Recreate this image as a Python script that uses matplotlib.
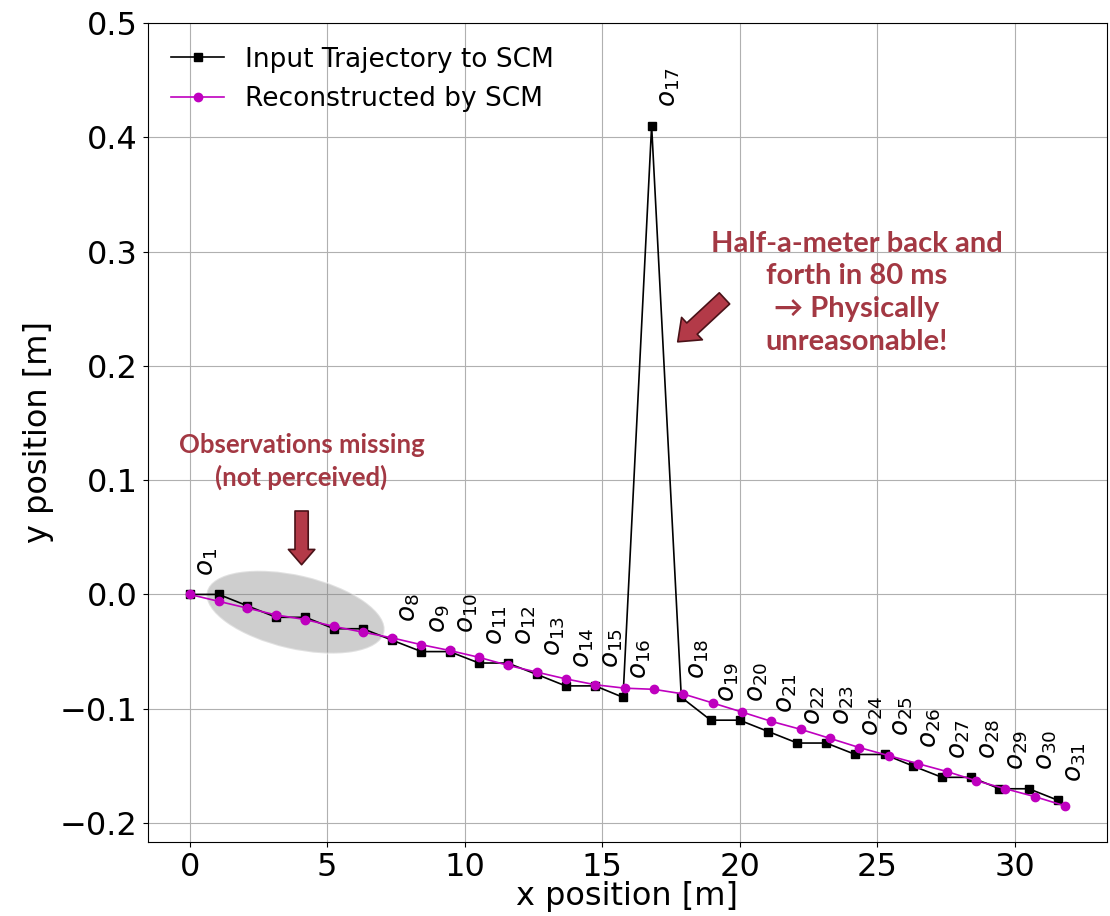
import numpy as np
import matplotlib
matplotlib.use("Agg")
from matplotlib import pyplot as plt
from matplotlib.patches import Ellipse
import matplotlib.transforms as mtransforms

# input trajectory (black squares)
input_x = [0.0, 1.06, 2.10, 3.15, 4.21, 5.25, 6.30, 7.36, 8.43, 9.45, 10.52,
           11.56, 12.63, 13.67, 14.75, 15.76, 16.80, 17.88, 18.95, 20.00, 21.05,
           22.10, 23.15, 24.21, 25.27, 26.30, 27.36, 28.43, 29.45, 30.52, 31.57]
input_y = [0.0, 0.0, -0.01, -0.02, -0.02, -0.03, -0.03, -0.04, -0.05, -0.05, -0.06,
           -0.06, -0.07, -0.08, -0.08, -0.09, 0.41, -0.09, -0.11, -0.11, -0.12,
           -0.13, -0.13, -0.14, -0.14, -0.15, -0.16, -0.16, -0.17, -0.17, -0.18]

# reconstructed trajectory (magenta dots)
rec_x = [0.0, 1.05, 2.10, 3.15, 4.21, 5.25, 6.30, 7.36, 8.43, 9.45, 10.52,
         11.57, 12.63, 13.70, 14.75, 15.82, 16.88, 17.94, 19.03, 20.10, 21.15,
         22.22, 23.30, 24.36, 25.42, 26.48, 27.55, 28.61, 29.67, 30.75, 31.84]
rec_y = [0.0, -0.006, -0.012, -0.018, -0.022, -0.028, -0.033, -0.038, -0.044, -0.049, -0.055,
         -0.062, -0.068, -0.074, -0.079, -0.082, -0.083, -0.087, -0.095, -0.103, -0.111,
         -0.118, -0.126, -0.134, -0.141, -0.148, -0.155, -0.163, -0.170, -0.177, -0.185]

# observation numbers shown next to the input points (o2..o7 not perceived)
obs_idx = [0] + list(range(7, 31))

RED = "#a33843"
ARROW_FC = "#b33a48"
ARROW_EC = "#4a1218"

fig = plt.figure(figsize=(11.1, 9.16), dpi=100)
ax = fig.add_axes([0.133, 0.081, 0.864, 0.894])

ax.grid(True, color="#b0b0b0", linewidth=0.8)
ax.set_axisbelow(True)

# grey ellipse around the missing observations (drawn in inches so it is not squashed)
etrans = fig.dpi_scale_trans + mtransforms.ScaledTranslation(3.85, -0.0155, ax.transData)
ell = Ellipse((0, 0), 1.82, 0.74, angle=-13, transform=etrans,
              facecolor="gray", alpha=0.38, edgecolor="white", linewidth=1.5, zorder=1.5)
ax.add_patch(ell)

ax.plot(input_x, input_y, color="black", marker="s", markersize=5.5, linewidth=1.2,
        label="Input Trajectory to SCM", zorder=3)
ax.plot(rec_x, rec_y, color="m", marker="o", markersize=6, linewidth=1.2,
        label="Reconstructed by SCM", zorder=4)

for i in obs_idx:
    ax.text(input_x[i] + 0.15, input_y[i] + 0.016, "$o_{%d}$" % (i + 1),
            rotation=90, ha="left", va="bottom", fontsize=19)

ax.set_xlim(-1.53, 33.35)
ax.set_ylim(-0.2164, 0.5)
ax.set_xticks(np.arange(0, 31, 5))
ax.set_yticks(np.arange(-0.2, 0.51, 0.1))
ax.tick_params(labelsize=23)
ax.set_xlabel("x position [m]", fontsize=23, labelpad=-1)
ax.set_ylabel("y position [m]", fontsize=23)

ax.legend(loc="upper left", frameon=False, fontsize=19)

# annotations
ax.text(4.07, 0.1165, "Observations missing\n(not perceived)", ha="center", va="center",
        fontsize=18.5, color=RED, fontweight="bold", linespacing=1.35,
        family=["Lato", "DejaVu Sans"])
ax.annotate("", xy=(4.07, 0.026), xytext=(4.07, 0.073),
            arrowprops=dict(arrowstyle="simple,head_length=11,head_width=19,tail_width=9.5",
                            mutation_scale=1, fc=ARROW_FC, ec=ARROW_EC, lw=1.2,
                            shrinkA=0, shrinkB=0))

ax.text(24.25, 0.264, "Half-a-meter back and\nforth in 80 ms\n\u2192 Physically\nunreasonable!",
        ha="center", va="center", fontsize=21, color=RED, fontweight="bold",
        linespacing=1.32, family=["Lato", "DejaVu Sans"])
ax.annotate("", xy=(17.75, 0.221), xytext=(19.45, 0.259),
            arrowprops=dict(arrowstyle="simple,head_length=14,head_width=22,tail_width=11",
                            mutation_scale=1, fc=ARROW_FC, ec=ARROW_EC, lw=1.2,
                            shrinkA=0, shrinkB=0))

fig.savefig("out.png", dpi=100)
